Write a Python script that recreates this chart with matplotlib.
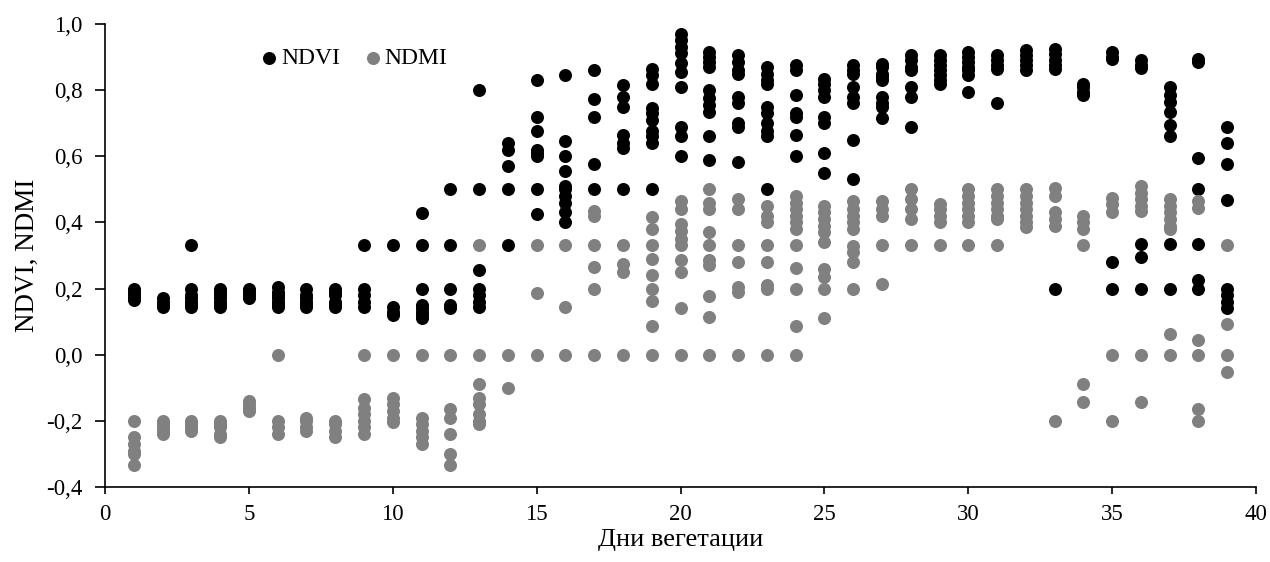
import matplotlib
matplotlib.use("Agg")
import matplotlib.pyplot as plt
from matplotlib.ticker import FuncFormatter, MultipleLocator

days = list(range(1, 40))

ndvi = [
    [0.20, 0.19, 0.18, 0.17, 0.165],
    [0.17, 0.16, 0.15, 0.145],
    [0.333, 0.20, 0.18, 0.17, 0.16, 0.15, 0.145],
    [0.20, 0.19, 0.18, 0.17, 0.16, 0.15, 0.145],
    [0.20, 0.19, 0.18, 0.17],
    [0.205, 0.19, 0.18, 0.17, 0.16, 0.15, 0.145],
    [0.20, 0.18, 0.17, 0.16, 0.15, 0.145],
    [0.20, 0.19, 0.18, 0.16, 0.15, 0.145],
    [0.333, 0.20, 0.18, 0.16, 0.145],
    [0.333, 0.145, 0.13, 0.12],
    [0.428, 0.333, 0.20, 0.15, 0.14, 0.13, 0.12, 0.11],
    [0.50, 0.333, 0.20, 0.15, 0.14],
    [0.80, 0.50, 0.256, 0.20, 0.18, 0.16, 0.145],
    [0.64, 0.62, 0.57, 0.50, 0.333],
    [0.83, 0.72, 0.675, 0.62, 0.61, 0.60, 0.50, 0.425],
    [0.846, 0.645, 0.60, 0.555, 0.51, 0.50, 0.48, 0.46, 0.43, 0.40],
    [0.861, 0.772, 0.72, 0.577, 0.50],
    [0.815, 0.78, 0.75, 0.665, 0.64, 0.625, 0.50],
    [0.865, 0.845, 0.82, 0.745, 0.73, 0.71, 0.675, 0.66, 0.64, 0.50],
    [0.97, 0.952, 0.931, 0.911, 0.881, 0.856, 0.81, 0.69, 0.66, 0.60],
    [0.915, 0.90, 0.885, 0.87, 0.80, 0.775, 0.755, 0.735, 0.66, 0.59],
    [0.905, 0.885, 0.86, 0.85, 0.78, 0.76, 0.70, 0.69, 0.582],
    [0.87, 0.85, 0.83, 0.82, 0.75, 0.73, 0.70, 0.675, 0.66, 0.50],
    [0.875, 0.86, 0.785, 0.73, 0.72, 0.664, 0.60],
    [0.835, 0.82, 0.80, 0.78, 0.72, 0.70, 0.611, 0.549],
    [0.875, 0.86, 0.85, 0.81, 0.78, 0.76, 0.649, 0.53],
    [0.88, 0.87, 0.85, 0.84, 0.83, 0.78, 0.76, 0.75, 0.715],
    [0.905, 0.89, 0.87, 0.86, 0.81, 0.78, 0.688],
    [0.905, 0.89, 0.875, 0.86, 0.845, 0.83, 0.82],
    [0.915, 0.90, 0.885, 0.87, 0.86, 0.845, 0.795],
    [0.905, 0.89, 0.875, 0.865, 0.76],
    [0.92, 0.905, 0.89, 0.875, 0.86],
    [0.925, 0.91, 0.89, 0.875, 0.865, 0.20],
    [0.82, 0.81, 0.795, 0.785],
    [0.915, 0.90, 0.895, 0.279, 0.20],
    [0.89, 0.875, 0.866, 0.334, 0.296, 0.20],
    [0.81, 0.785, 0.765, 0.735, 0.695, 0.66, 0.334, 0.20],
    [0.895, 0.885, 0.594, 0.50, 0.334, 0.226, 0.20],
    [0.69, 0.641, 0.576, 0.468, 0.20, 0.18, 0.16, 0.14],
]

ndmi = [
    [-0.20, -0.25, -0.27, -0.29, -0.30, -0.333],
    [-0.20, -0.21, -0.22, -0.23, -0.24],
    [-0.20, -0.21, -0.22, -0.23],
    [-0.20, -0.21, -0.22, -0.24, -0.25],
    [-0.14, -0.15, -0.16, -0.17],
    [0.0, -0.20, -0.22, -0.24],
    [-0.19, -0.20, -0.22, -0.23],
    [-0.20, -0.21, -0.23, -0.25],
    [0.0, -0.135, -0.16, -0.18, -0.20, -0.22, -0.24],
    [0.0, -0.13, -0.15, -0.17, -0.19, -0.205],
    [0.0, -0.19, -0.21, -0.23, -0.25, -0.27],
    [0.0, -0.165, -0.19, -0.24, -0.30, -0.333],
    [0.333, 0.0, -0.09, -0.13, -0.15, -0.18, -0.20, -0.21],
    [0.0, -0.10],
    [0.333, 0.187, 0.0],
    [0.333, 0.143, 0.0],
    [0.435, 0.42, 0.333, 0.264, 0.20, 0.0],
    [0.333, 0.275, 0.25, 0.0],
    [0.415, 0.38, 0.333, 0.288, 0.241, 0.20, 0.163, 0.088, 0.0],
    [0.465, 0.44, 0.395, 0.375, 0.35, 0.333, 0.285, 0.25, 0.14, 0.0],
    [0.50, 0.46, 0.44, 0.37, 0.333, 0.285, 0.27, 0.177, 0.115, 0.0],
    [0.47, 0.44, 0.333, 0.281, 0.205, 0.19, 0.0],
    [0.45, 0.42, 0.40, 0.333, 0.281, 0.21, 0.20, 0.0],
    [0.48, 0.46, 0.44, 0.42, 0.40, 0.38, 0.333, 0.261, 0.20, 0.087, 0.0],
    [0.45, 0.43, 0.41, 0.39, 0.37, 0.34, 0.26, 0.235, 0.20, 0.11],
    [0.465, 0.44, 0.42, 0.40, 0.38, 0.33, 0.31, 0.28, 0.20],
    [0.465, 0.44, 0.42, 0.333, 0.213],
    [0.50, 0.47, 0.44, 0.41, 0.333],
    [0.455, 0.44, 0.42, 0.40, 0.333],
    [0.50, 0.48, 0.46, 0.44, 0.42, 0.40, 0.333],
    [0.50, 0.48, 0.46, 0.44, 0.42, 0.41, 0.333],
    [0.50, 0.48, 0.46, 0.44, 0.42, 0.40, 0.387],
    [0.505, 0.48, 0.43, 0.41, 0.39, -0.20],
    [0.42, 0.40, 0.38, 0.333, -0.089, -0.142],
    [0.475, 0.455, 0.43, 0.0, -0.20],
    [0.51, 0.49, 0.47, 0.45, 0.435, 0.0, -0.142],
    [0.47, 0.45, 0.43, 0.41, 0.39, 0.38, 0.063, 0.0],
    [0.465, 0.445, 0.044, 0.0, -0.165, -0.20],
    [0.333, 0.093, 0.0, -0.051],
]

series_names = ["NDVI", "NDMI"]
x_label = "Дни вегетации"
y_label = "NDVI, NDMI"


def flatten(groups):
    xs, ys = [], []
    for d, vals in zip(days, groups):
        for v in vals:
            xs.append(d)
            ys.append(v)
    return xs, ys


plt.rcParams["font.family"] = ["Liberation Serif", "DejaVu Serif"]

fig = plt.figure(figsize=(12.70, 5.62), dpi=100)
ax = fig.add_axes([0.0827, 0.1335, 0.9063, 0.8238])

nx, ny = flatten(ndvi)
mx, my = flatten(ndmi)
ax.scatter(nx, ny, s=88, color="#000000", linewidths=0, label=series_names[0], zorder=3)
ax.scatter(mx, my, s=88, color="#808080", linewidths=0, label=series_names[1], zorder=3)

ax.set_xlim(0, 40)
ax.set_ylim(-0.4, 1.0)
ax.xaxis.set_major_locator(MultipleLocator(5))
ax.yaxis.set_major_locator(MultipleLocator(0.2))
ax.yaxis.set_major_formatter(FuncFormatter(lambda v, p: f"{v:.1f}".replace(".", ",").replace("−", "-")))

for s in ["top", "right"]:
    ax.spines[s].set_visible(False)
for s in ["left", "bottom"]:
    ax.spines[s].set_linewidth(1.2)
    ax.spines[s].set_color("black")

ax.tick_params(axis="x", direction="out", length=5, width=1.2, labelsize=16.5, pad=7)
ax.tick_params(axis="y", direction="out", length=7, width=1.2, labelsize=16.5, pad=9)

ax.set_xlabel(x_label, fontsize=19, labelpad=3)
ax.set_ylabel(y_label, fontsize=19.5, labelpad=5)

leg = ax.legend(loc="upper left", bbox_to_anchor=(0.118, 0.985), ncol=2, frameon=False,
                fontsize=17, handletextpad=0.0, columnspacing=0.9, markerscale=1.0,
                borderpad=0.2, handlelength=1.0)

fig.savefig("out.png", dpi=100)
